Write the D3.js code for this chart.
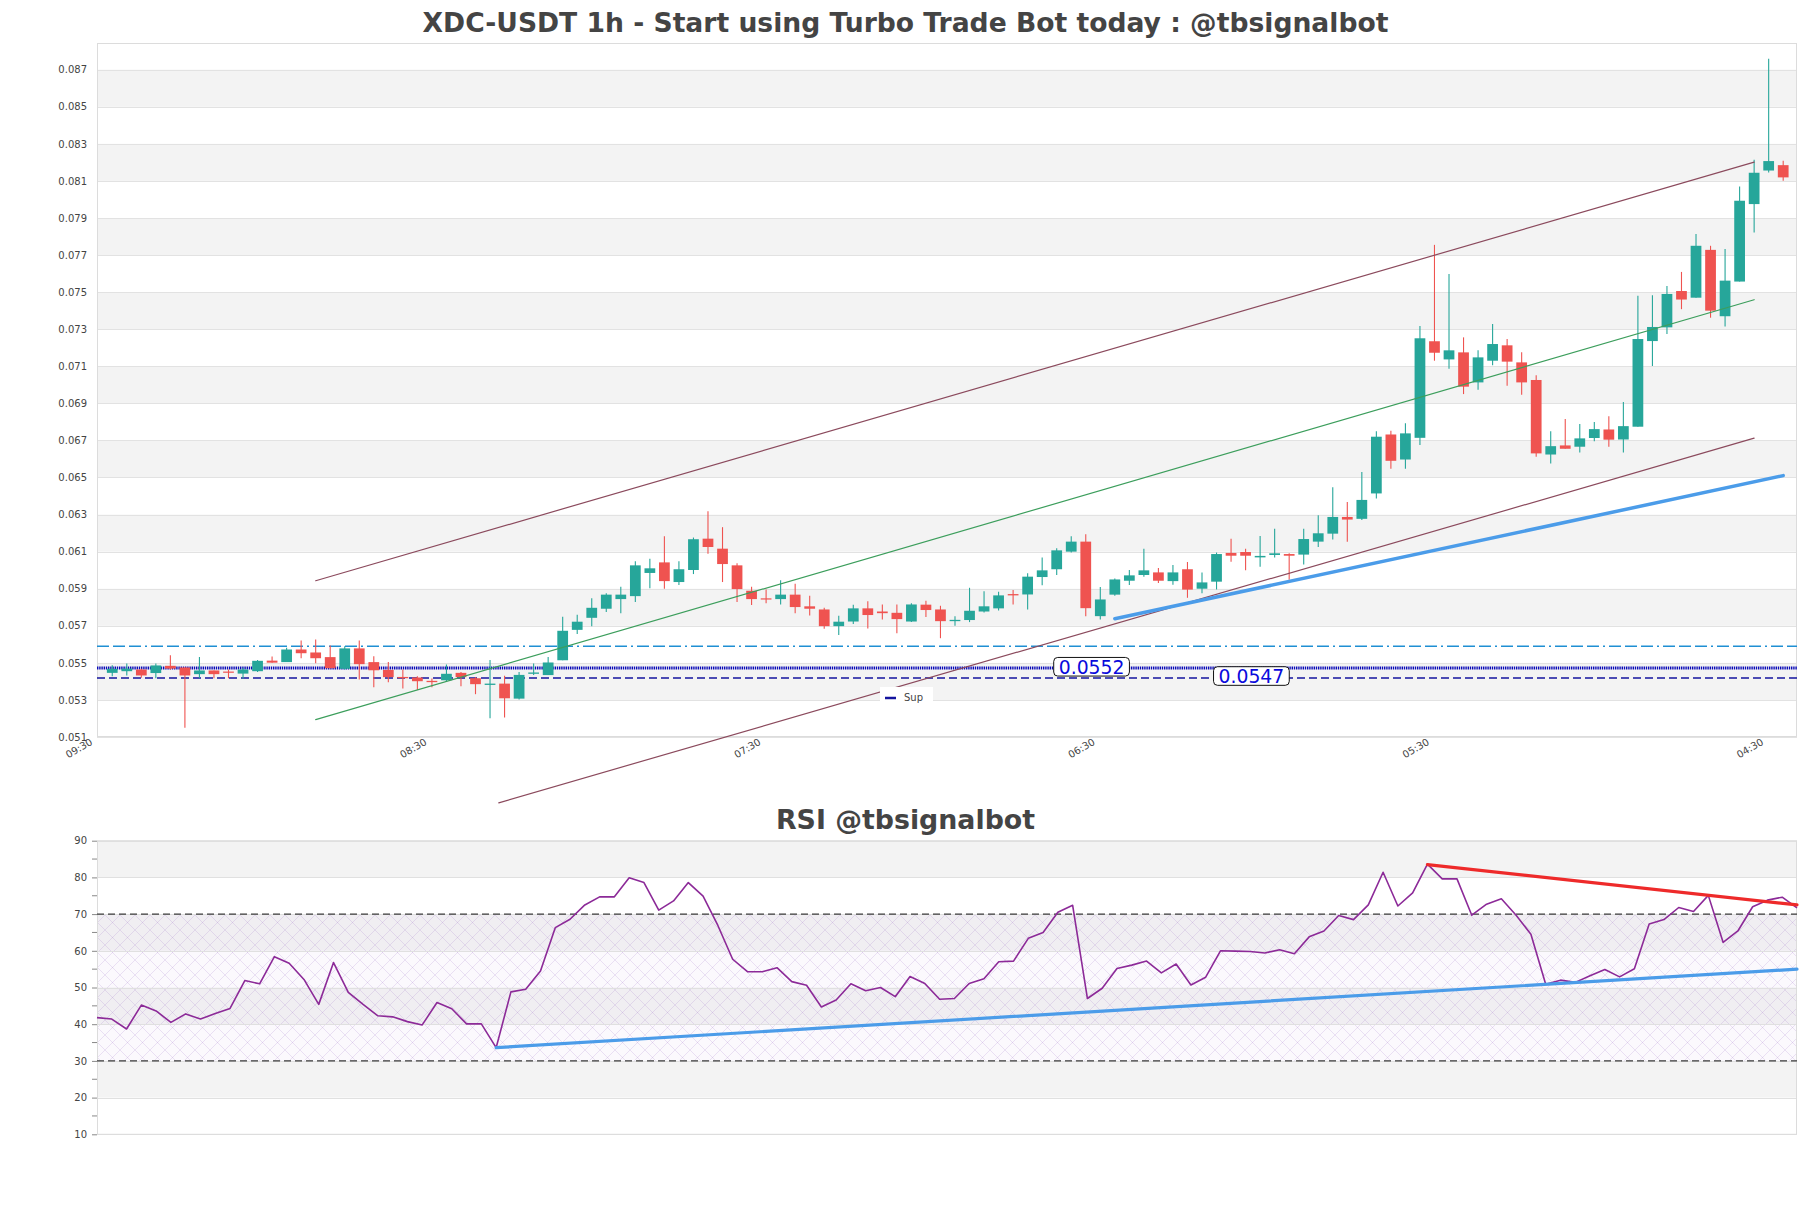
<!DOCTYPE html>
<html><head><meta charset="utf-8">
<script src="https://cdn.jsdelivr.net/npm/d3@7"></script>
<style>
html,body{margin:0;padding:0;background:#fff;}
svg{display:block;font-family:"DejaVu Sans",sans-serif;}
</style></head><body>
<svg id="chart" width="1811" height="1208"></svg>
<script>
// ---------------- DATA ----------------
const title = "XDC-USDT 1h - Start using Turbo Trade Bot today : @tbsignalbot";
const rsiTitle = "RSI @tbsignalbot";

const openP = [0.05446,0.05455,0.05464,0.05445,0.05484,0.05475,0.05439,0.05459,0.05453,0.05442,
0.05455,0.05512,0.05504,0.05572,0.05556,0.05531,0.05468,0.05578,0.05504,0.05462,
0.05424,0.05421,0.05403,0.05406,0.05446,0.05417,0.05381,0.05388,0.05307,0.05441,
0.05434,0.05514,0.05678,0.05743,0.05792,0.05844,0.05860,0.05985,0.06042,0.05936,
0.06001,0.06170,0.06116,0.06026,0.05889,0.05848,0.05844,0.05868,0.05805,0.05788,
0.05698,0.05723,0.05794,0.05777,0.05770,0.05723,0.05814,0.05788,0.05725,0.05731,
0.05777,0.05794,0.05871,0.05869,0.05963,0.06005,0.06100,0.06154,0.05752,0.05868,
0.05943,0.05974,0.05988,0.05941,0.06005,0.05900,0.05938,0.06093,0.06098,0.06069,
0.06082,0.06087,0.06084,0.06154,0.06197,0.06287,0.06277,0.06414,0.06732,0.06597,
0.06714,0.07235,0.07137,0.07175,0.07013,0.07130,0.07213,0.07121,0.07026,0.06624,
0.06673,0.06666,0.06713,0.06759,0.06705,0.06774,0.07236,0.07310,0.07506,0.07470,
0.07728,0.07370,0.07557,0.07975,0.08156,0.08185];
const highP = [0.05487,0.05496,0.05468,0.05496,0.05541,0.05475,0.05532,0.05459,0.05464,0.05473,
0.05516,0.05534,0.05581,0.05621,0.05626,0.05594,0.05590,0.05621,0.05536,0.05505,
0.05464,0.05428,0.05415,0.05491,0.05450,0.05423,0.05516,0.05430,0.05451,0.05496,
0.05532,0.05749,0.05759,0.05848,0.05875,0.05911,0.06048,0.06062,0.06183,0.06048,
0.06176,0.06318,0.06232,0.06037,0.05911,0.05896,0.05945,0.05927,0.05862,0.05797,
0.05754,0.05814,0.05832,0.05815,0.05815,0.05821,0.05835,0.05808,0.05752,0.05905,
0.05886,0.05884,0.05893,0.05983,0.06068,0.06118,0.06183,0.06194,0.05909,0.05955,
0.06001,0.06116,0.06012,0.06028,0.06044,0.05988,0.06095,0.06170,0.06116,0.06185,
0.06223,0.06091,0.06223,0.06296,0.06448,0.06368,0.06529,0.06749,0.06752,0.06792,
0.07317,0.07755,0.07598,0.07256,0.07186,0.07328,0.07247,0.07175,0.07051,0.06750,
0.06815,0.06788,0.06799,0.06831,0.06907,0.07480,0.07483,0.07533,0.07609,0.07814,
0.07750,0.07733,0.08070,0.08214,0.08759,0.08209];
const lowP = [0.05428,0.05432,0.05419,0.05417,0.05464,0.05150,0.05417,0.05417,0.05417,0.05414,
0.05450,0.05501,0.05504,0.05525,0.05498,0.05471,0.05464,0.05410,0.05368,0.05396,
0.05361,0.05354,0.05368,0.05401,0.05374,0.05331,0.05201,0.05205,0.05302,0.05435,
0.05434,0.05514,0.05655,0.05698,0.05774,0.05768,0.05828,0.05902,0.05900,0.05920,
0.05979,0.06089,0.05936,0.05828,0.05812,0.05821,0.05815,0.05768,0.05756,0.05684,
0.05650,0.05709,0.05686,0.05734,0.05660,0.05720,0.05747,0.05633,0.05700,0.05720,
0.05772,0.05783,0.05815,0.05788,0.05918,0.05974,0.06095,0.05752,0.05734,0.05862,
0.05920,0.05965,0.05931,0.05922,0.05851,0.05875,0.05896,0.06046,0.05999,0.06019,
0.06068,0.05949,0.06030,0.06125,0.06165,0.06154,0.06271,0.06386,0.06547,0.06547,
0.06675,0.07130,0.07087,0.06950,0.06974,0.07105,0.06995,0.06947,0.06612,0.06576,
0.06655,0.06635,0.06696,0.06666,0.06635,0.06774,0.07102,0.07274,0.07408,0.07470,
0.07362,0.07314,0.07557,0.07822,0.08146,0.08101];
const closeP = [0.05468,0.05469,0.05432,0.05486,0.05469,0.05432,0.05459,0.05439,0.05448,0.05464,
0.05511,0.05501,0.05572,0.05552,0.05525,0.05471,0.05578,0.05493,0.05460,0.05423,
0.05417,0.05401,0.05396,0.05441,0.05423,0.05385,0.05388,0.05309,0.05435,0.05448,
0.05502,0.05673,0.05722,0.05797,0.05868,0.05868,0.06026,0.06010,0.05941,0.06005,
0.06167,0.06125,0.06033,0.05898,0.05844,0.05842,0.05868,0.05801,0.05792,0.05698,
0.05722,0.05794,0.05758,0.05768,0.05736,0.05815,0.05785,0.05725,0.05732,0.05781,
0.05805,0.05864,0.05864,0.05965,0.05999,0.06107,0.06154,0.05795,0.05842,0.05950,
0.05972,0.05999,0.05943,0.05988,0.05895,0.05934,0.06087,0.06078,0.06078,0.06077,
0.06091,0.06078,0.06168,0.06199,0.06287,0.06273,0.06379,0.06720,0.06590,0.06738,
0.07251,0.07173,0.07186,0.06990,0.07148,0.07220,0.07125,0.07013,0.06630,0.06669,
0.06655,0.06711,0.06761,0.06704,0.06777,0.07247,0.07312,0.07490,0.07460,0.07750,
0.07400,0.07562,0.07993,0.08144,0.08207,0.08119];

const rsiValues = [41.8,41.4,38.7,45.2,43.6,40.5,42.8,41.4,42.9,44.3,
51.9,51.0,58.4,56.6,52.2,45.4,56.8,48.7,45.4,42.3,
42.0,40.7,39.8,45.9,44.2,40.1,40.1,33.6,48.8,49.5,
54.5,66.3,68.6,72.5,74.7,74.7,79.9,78.6,71.1,73.6,
78.6,74.9,66.9,57.7,54.3,54.3,55.4,51.6,50.6,44.7,
46.6,51.0,49.1,50.0,47.5,53.0,51.1,46.8,47.0,51.1,
52.4,57.0,57.2,63.4,65.0,70.5,72.4,47.0,49.8,55.2,
56.1,57.2,54.0,56.4,50.7,52.8,60.0,59.9,59.8,59.4,
60.3,59.2,63.8,65.4,69.6,68.5,72.5,81.4,72.2,75.8,
83.6,79.6,79.6,69.7,72.7,74.2,69.7,64.5,50.9,52.0,
51.4,53.2,54.9,52.9,55.1,67.3,68.5,71.8,70.7,75.1,
62.3,65.4,72.0,73.8,74.6,71.7];

const priceTicks = [0.051,0.053,0.055,0.057,0.059,0.061,0.063,0.065,0.067,0.069,0.071,0.073,0.075,0.077,0.079,0.081,0.083,0.085,0.087];
const timeTickPos = [-1,22,45,68,91,114];
const timeTickLabels = ["09:30","08:30","07:30","06:30","05:30","04:30"];
const rsiTicks = [10,20,30,40,50,60,70,80,90];
const rsiMinorTicks = [15,25,35,45,55,65,75,85];

// horizontal levels
const levelCyan = 0.0559;
const levelDotted = 0.05472;
const levelNavy = 0.05418;
// channel lines [x0,x1],[y0,y1]
const chanUpperX = [14,113], chanUpperY = [0.05943,0.08201];
const chanMidX = [14,113], chanMidY = [0.05194,0.07459];
const chanLowerX = [26.6,113], chanLowerY = [0.04745,0.06712];
const supportX = [69,115], supportY = [0.05738,0.06510];
// annotations
const annotText = ["0.0552","0.0547"];
const annotX = [67.4,78.4];
const annotY = [0.0552,0.0547];
// RSI trend lines
const rsiResX = [90,115], rsiResY = [83.5,72.5];
const rsiSupX = [27,115], rsiSupY = [33.6,55.0];
const rsiLevels = [70,30];
const rsiHatch = [30,70];

// ---------------- LAYOUT ----------------
const svg = d3.select("#chart");
const L = 97, Rt = 1797, T = 43, B = 737;
const RT = 840.7, RB = 1134.3;
const textCol = "#444";

const x = d3.scaleLinear().domain([-1.05,115.95]).range([L,Rt]);
const y = d3.scaleLinear().domain([0.051,0.08844]).range([B,T]);
const xr = d3.scaleLinear().domain([0,115]).range([L,Rt]);
const yr = d3.scaleLinear().domain([10,90]).range([RB,RT]);

const defs = svg.append("defs");
const pat = defs.append("pattern").attr("id","hatch").attr("patternUnits","userSpaceOnUse")
  .attr("width",15).attr("height",15);
pat.append("rect").attr("width",15).attr("height",15).attr("fill","rgba(190,160,220,0.06)");
pat.append("path").attr("d","M0,0L15,15M15,0L0,15M-1,14L1,16M14,-1L16,1")
  .attr("stroke","rgba(150,105,195,0.3)").attr("stroke-width",0.6).attr("fill","none");

// titles
svg.append("text").attr("x",905.5).attr("y",32).attr("text-anchor","middle")
  .attr("font-size",26.6).attr("font-weight","bold").attr("fill",textCol).text(title);
svg.append("text").attr("x",905.5).attr("y",829).attr("text-anchor","middle")
  .attr("font-size",26.8).attr("font-weight","bold").attr("fill",textCol).text(rsiTitle);

// ---- main plot background bands
const gMain = svg.append("g");
const bandPairs = [];
for (let i=1;i<priceTicks.length-1;i+=2) bandPairs.push([priceTicks[i],priceTicks[i+1]]);
gMain.selectAll("rect.band").data(bandPairs).join("rect")
  .attr("x",L).attr("width",Rt-L)
  .attr("y",d=>y(d[1])).attr("height",d=>y(d[0])-y(d[1]))
  .attr("fill","#f3f3f3");
gMain.selectAll("line.grid").data(priceTicks).join("line")
  .attr("x1",L).attr("x2",Rt).attr("y1",d=>Math.round(y(d))+0.5).attr("y2",d=>Math.round(y(d))+0.5)
  .attr("stroke","#e2e2e2").attr("stroke-width",1);
gMain.append("rect").attr("x",L+0.5).attr("y",T+0.5).attr("width",Rt-L-1).attr("height",B-T-1)
  .attr("fill","none").attr("stroke","#dcdcdc");

// y axis
const yAxis = d3.axisLeft(y).tickValues(priceTicks).tickFormat(d3.format(".3f")).tickSize(0).tickPadding(10);
const gy = svg.append("g").attr("transform",`translate(${L},0)`).call(yAxis);
gy.select(".domain").remove();
gy.selectAll("text").attr("font-size",10).attr("fill",textCol).attr("font-family","DejaVu Sans");

// x axis
const xAxis = d3.axisBottom(x).tickValues(timeTickPos).tickFormat((d,i)=>timeTickLabels[i]).tickSize(0);
const gx = svg.append("g").attr("transform",`translate(0,${B})`).call(xAxis);
gx.select(".domain").remove();
gx.selectAll("text").attr("font-size",10).attr("fill",textCol).attr("font-family","DejaVu Sans")
  .attr("text-anchor","end").attr("dy",null).attr("y",0).attr("x",0)
  .attr("transform","translate(-5,7) rotate(-30)");

// horizontal levels
function hline(v, col, w, dash){
  gMain.append("line").attr("x1",L).attr("x2",Rt).attr("y1",y(v)).attr("y2",y(v))
    .attr("stroke",col).attr("stroke-width",w).attr("stroke-dasharray",dash);
}
hline(levelCyan,"#1f8fd3",1.5,"12,4,12,4,12,4,2,4");
hline(levelNavy,"#14149e",1.5,"8,4");
hline(levelDotted,"#0a0ab8",3,"1.4,0.8");

function seg(g, sx, sy, xs, ys, col, w){
  g.append("line").attr("x1",sx(xs[0])).attr("y1",sy(ys[0])).attr("x2",sx(xs[1])).attr("y2",sy(ys[1]))
    .attr("stroke",col).attr("stroke-width",w).attr("stroke-linecap","round");
}

// candles
const bw = (x(1)-x(0))*0.74;
const candles = d3.range(openP.length).map(i=>({i,o:openP[i],h:highP[i],l:lowP[i],c:closeP[i]}));
const gC = svg.append("g");
const col = d=> d.c>=d.o ? "#26a69a" : "#ef5350";
gC.selectAll("line.wick").data(candles).join("line")
  .attr("x1",d=>x(d.i)).attr("x2",d=>x(d.i)).attr("y1",d=>y(d.h)).attr("y2",d=>y(d.l))
  .attr("stroke",col).attr("stroke-width",1.1);
gC.selectAll("rect.body").data(candles).join("rect")
  .attr("x",d=>x(d.i)-bw/2).attr("width",bw)
  .attr("y",d=>y(Math.max(d.o,d.c)))
  .attr("height",d=>Math.max(1.2,Math.abs(y(d.o)-y(d.c))))
  .attr("fill",col);

const gLines = svg.append("g");
seg(gLines,x,y,chanUpperX,chanUpperY,"#8b4a5d",1.2);
seg(gLines,x,y,chanMidX,chanMidY,"#3c9e5c",1.2);
seg(gLines,x,y,chanLowerX,chanLowerY,"#8b4a5d",1.2);
seg(gLines,x,y,supportX,supportY,"#4b9ce9",3.5);

// annotations
annotText.forEach((t,k)=>{
  const g = svg.append("g").attr("transform",`translate(${x(annotX[k])},${y(annotY[k])+7.6})`);
  const tx = g.append("text").attr("text-anchor","middle").attr("dy","0.36em")
    .attr("font-size",18.8).attr("fill","#0a0adc").text(t);
  const bb = tx.node().getBBox();
  g.insert("rect","text").attr("x",bb.x-5).attr("y",-9.3).attr("width",bb.width+10).attr("height",18.6)
    .attr("rx",4).attr("fill","#fff").attr("stroke","#111").attr("stroke-width",1);
});

// legend
const lg = svg.append("g");
lg.append("rect").attr("x",880).attr("y",687).attr("width",53).attr("height",15).attr("fill","#fff");
lg.append("line").attr("x1",885).attr("x2",896).attr("y1",698).attr("y2",698).attr("stroke","#14149e").attr("stroke-width",2.5);
lg.append("text").attr("x",904).attr("y",701).attr("font-size",10).attr("fill",textCol).text("Sup");

// ---------------- RSI ----------------
const gR = svg.append("g");
const rBands = [];
for (let i=1;i<rsiTicks.length-1;i+=2) rBands.push([rsiTicks[i],rsiTicks[i+1]]);
gR.selectAll("rect.band").data(rBands).join("rect")
  .attr("x",L).attr("width",Rt-L).attr("y",d=>yr(d[1])).attr("height",d=>yr(d[0])-yr(d[1]))
  .attr("fill","#f3f3f3");
gR.append("rect").attr("x",L).attr("width",Rt-L).attr("y",yr(rsiHatch[1])).attr("height",yr(rsiHatch[0])-yr(rsiHatch[1]))
  .attr("fill","url(#hatch)");
gR.selectAll("line.grid").data(rsiTicks).join("line")
  .attr("x1",L).attr("x2",Rt).attr("y1",d=>Math.round(yr(d))+0.5).attr("y2",d=>Math.round(yr(d))+0.5)
  .attr("stroke","#e0e0e0");
gR.append("rect").attr("x",L+0.5).attr("y",RT).attr("width",Rt-L-1).attr("height",RB-RT)
  .attr("fill","none").attr("stroke","#dcdcdc");
gR.selectAll("line.lvl").data(rsiLevels).join("line")
  .attr("x1",L).attr("x2",Rt).attr("y1",d=>yr(d)).attr("y2",d=>yr(d))
  .attr("stroke","#3a3a3a").attr("stroke-width",1.3).attr("stroke-dasharray","7,4");

const ryAxis = d3.axisLeft(yr).tickValues(rsiTicks).tickFormat(d3.format("d")).tickSize(5).tickPadding(5);
const gry = svg.append("g").attr("transform",`translate(${L},0)`).call(ryAxis);
gry.select(".domain").remove();
gry.selectAll("line").attr("stroke","#888");
gry.selectAll("text").attr("font-size",10).attr("fill",textCol).attr("font-family","DejaVu Sans");
svg.append("g").selectAll("line").data(rsiMinorTicks).join("line")
  .attr("x1",L-5).attr("x2",L).attr("y1",d=>yr(d)).attr("y2",d=>yr(d)).attr("stroke","#888");

const rsiLine = d3.line().x((d,i)=>xr(i)).y(d=>yr(d));
gR.append("path").datum(rsiValues).attr("d",rsiLine).attr("fill","none")
  .attr("stroke","#8c2a98").attr("stroke-width",1.6).attr("stroke-linejoin","round");
seg(gR,xr,yr,rsiResX,rsiResY,"#ee2a2a",3.2);
seg(gR,xr,yr,rsiSupX,rsiSupY,"#4b9ce9",3.2);
</script>
</body></html>
